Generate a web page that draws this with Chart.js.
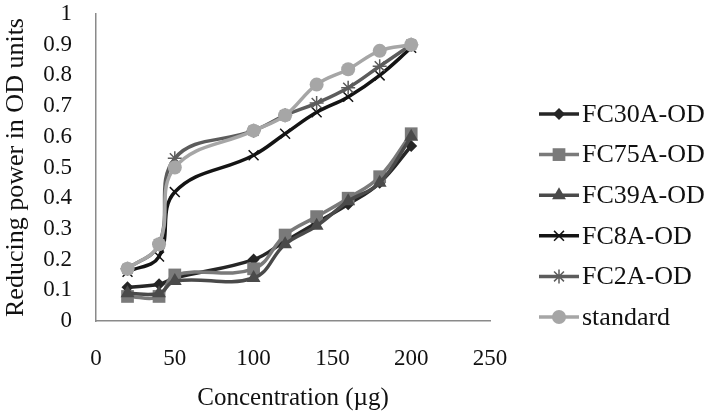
<!DOCTYPE html>
<html>
<head>
<meta charset="utf-8">
<script src="https://cdn.jsdelivr.net/npm/chart.js@4.4.1/dist/chart.umd.min.js"></script>
<style>
  html, body { margin: 0; padding: 0; background: #fff; }
  #wrap { width: 709px; height: 416px; }
</style>
</head>
<body>
<div id="wrap"><canvas id="odChart" width="709" height="416"></canvas></div>
<script>
// concentration (µg)
const concentrations = [20, 40, 50, 100, 120, 140, 160, 180, 200];

// reducing power, OD units
const fc30a = [0.11, 0.12, 0.14, 0.20, 0.26, 0.32, 0.38, 0.45, 0.57];
const fc75a = [0.08, 0.08, 0.15, 0.17, 0.28, 0.34, 0.40, 0.47, 0.61];
const fc39a = [0.09, 0.09, 0.13, 0.14, 0.25, 0.31, 0.39, 0.45, 0.60];
const fc8a = [0.16, 0.21, 0.42, 0.54, 0.61, 0.68, 0.73, 0.80, 0.89];
const fc2a = [0.17, 0.25, 0.53, 0.62, 0.67, 0.71, 0.76, 0.83, 0.90];
const standard = [0.17, 0.25, 0.50, 0.62, 0.67, 0.77, 0.82, 0.88, 0.90];

const seriesNames = ['FC30A-OD', 'FC75A-OD', 'FC39A-OD', 'FC8A-OD', 'FC2A-OD', 'standard'];
const seriesValues = [fc30a, fc75a, fc39a, fc8a, fc2a, standard];

const xTicks = [0, 50, 100, 150, 200, 250];
const yTicks = [0, 0.1, 0.2, 0.3, 0.4, 0.5, 0.6, 0.7, 0.8, 0.9, 1];

// marker look per series
const styles = [
    { color: '#262626', point: 'rectRot', radius: 6, bw: 0 },
    { color: '#7a7a7a', point: 'rect', radius: 9, bw: 0 },
    { color: '#4a4a4a', point: 'triangle', radius: 8, bw: 0 },
    { color: '#141414', point: 'crossRot', radius: 7, bw: 1.5 },
    { color: '#5c5c5c', point: 'star', radius: 7, bw: 1.5 },
    { color: '#a6a6a6', point: 'circle', radius: 7, bw: 0 }
];

const SERIF = '"Liberation Serif", "Times New Roman", serif';

const datasets = seriesNames.map((name, i) => ({
    label: name,
    data: concentrations.map((x, j) => ({ x, y: seriesValues[i][j] })),
    showLine: true,
    tension: 0.4,
    borderColor: styles[i].color,
    borderWidth: 3.5,
    backgroundColor: styles[i].color,
    pointStyle: styles[i].point,
    pointRadius: styles[i].radius,
    pointBorderWidth: styles[i].bw,
    pointBorderColor: styles[i].color,
    pointBackgroundColor: styles[i].color,
    order: seriesNames.length - 1 - i
}));

// Excel-like legend: short line with the marker on it, text on the right
const sideLegend = {
    id: 'sideLegend',
    afterDraw(chart) {
        const ctx = chart.ctx;
        const area = chart.chartArea;
        const x0 = area.right + 49, x1 = x0 + 40;
        ctx.save();
        ctx.font = '26px ' + SERIF;
        ctx.textBaseline = 'middle';
        seriesNames.forEach((name, i) => {
            const y = 114 + i * 40.6;
            const s = styles[i];
            ctx.strokeStyle = s.color;
            ctx.fillStyle = s.color;
            ctx.lineWidth = 3.5;
            ctx.beginPath(); ctx.moveTo(x0, y); ctx.lineTo(x1, y); ctx.stroke();
            ctx.lineWidth = s.bw;
            Chart.helpers.drawPoint(ctx, { pointStyle: s.point, radius: s.radius, rotation: 0, borderWidth: s.bw }, (x0 + x1) / 2, y);
            ctx.fillStyle = '#111';
            ctx.fillText(name, x1 + 3, y + 1);
        });
        ctx.restore();
    }
};

new Chart(document.getElementById('odChart'), {
    type: 'scatter',
    data: { datasets },
    plugins: [sideLegend],
    options: {
        responsive: false,
        animation: false,
        devicePixelRatio: 1,
        layout: { padding: { top: 14, right: 219, bottom: 0, left: 0 } },
        plugins: { legend: { display: false }, tooltip: { enabled: false } },
        scales: {
            x: {
                type: 'linear', min: 0, max: 250,
                afterBuildTicks: s => { s.ticks = xTicks.map(v => ({ value: v })); },
                afterFit: s => { s.height = 95; },
                grid: { display: false, drawTicks: false },
                border: { color: '#8a8a8a', width: 1.5 },
                ticks: { color: '#111', padding: 24, autoSkip: false, font: { family: SERIF, size: 23 } },
                title: { display: true, text: 'Concentration (µg)', color: '#111', padding: { top: 0, bottom: 3 }, font: { family: SERIF, size: 25 } }
            },
            y: {
                type: 'linear', min: 0, max: 1,
                afterBuildTicks: s => { s.ticks = yTicks.map(v => ({ value: v })); },
                afterFit: s => { s.width = 96; s.paddingTop = 12; s.paddingBottom = 12; },
                grid: { display: false, drawTicks: false },
                border: { color: '#8a8a8a', width: 1.5 },
                ticks: { color: '#111', padding: 24, autoSkip: false, callback: v => String(v), font: { family: SERIF, size: 23 } },
                title: { display: true, text: 'Reducing power in OD units', color: '#111', padding: { top: 1, bottom: 0 }, font: { family: SERIF, size: 26 } }
            }
        }
    }
});
</script>
</body>
</html>
